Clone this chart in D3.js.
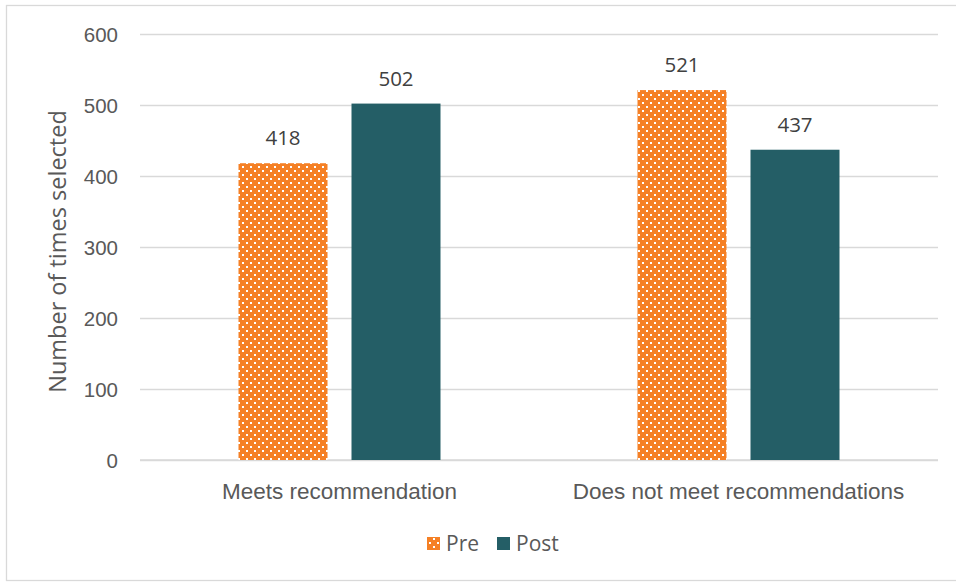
<!DOCTYPE html>
<html>
<head>
<meta charset="utf-8">
<script src="https://cdn.jsdelivr.net/npm/d3@7/dist/d3.min.js"></script>
<style>
  html, body { margin: 0; padding: 0; background: #fff; }
  svg { display: block; font-family: "Open Sans", "Liberation Sans", sans-serif; }
</style>
</head>
<body>
<svg id="chart" width="956" height="582"></svg>
<script>
// Chart data
const categories = ["Meets recommendation", "Does not meet recommendations"];
const seriesNames = ["Pre", "Post"];
const preValues = [418, 521];
const postValues = [502, 437];
const yTicks = [0, 100, 200, 300, 400, 500, 600];
const yTitle = "Number of times selected";

const seriesColors = { Pre: "#F58025", Post: "#245E66" };
const valuesBySeries = { Pre: preValues, Post: postValues };

const svg = d3.select("#chart");

// Dotted fill for the "Pre" series
const defs = svg.append("defs");
const pat = defs.append("pattern")
  .attr("id", "dots")
  .attr("patternUnits", "userSpaceOnUse")
  .attr("x", 6).attr("y", 2)
  .attr("width", 8).attr("height", 8);
pat.append("rect").attr("width", 8).attr("height", 8).attr("fill", seriesColors.Pre);
pat.append("rect").attr("x", 0).attr("y", 0).attr("width", 2).attr("height", 2).attr("fill", "#fff");
pat.append("rect").attr("x", 4).attr("y", 4).attr("width", 2).attr("height", 2).attr("fill", "#fff");

const fillFor = s => s === "Pre" ? "url(#dots)" : seriesColors.Post;

// Outer chart frame
svg.append("rect")
  .attr("x", 6.5).attr("y", 5.5)
  .attr("width", 960).attr("height", 575)
  .attr("fill", "#fff")
  .attr("stroke", "#D9D9D9").attr("stroke-width", 1.3);

// Plot area
const plot = { left: 140, right: 938, top: 34, bottom: 460 };

const y = d3.scaleLinear().domain([0, 600]).range([plot.bottom, plot.top]);
const x0 = d3.scaleBand().domain(categories).range([plot.left, plot.right]).padding(0);
const x1 = d3.scaleBand().domain(seriesNames)
  .range([98.5, x0.bandwidth() - 98.5])
  .paddingInner(24 / 113).paddingOuter(0);

// Gridlines and value axis
const yAxis = d3.axisLeft(y).tickValues(yTicks).tickSize(-(plot.right - plot.left)).tickPadding(22);
const gy = svg.append("g").attr("transform", `translate(${plot.left},0)`).call(yAxis);
gy.select(".domain").remove();
gy.selectAll(".tick line").attr("stroke", "#D9D9D9").attr("stroke-width", 1.3);
gy.selectAll(".tick text")
  .attr("fill", "#595959")
  .style("font-size", "20.5px")
  .attr("dy", "0.35em");

// Baseline
svg.append("line")
  .attr("x1", plot.left).attr("x2", plot.right)
  .attr("y1", y(0)).attr("y2", y(0))
  .attr("stroke", "#D9D9D9").attr("stroke-width", 1.5);

// Bars
const rows = [];
categories.forEach((c, i) => seriesNames.forEach(s => rows.push({ cat: c, series: s, value: valuesBySeries[s][i] })));

svg.append("g").selectAll("rect").data(rows).join("rect")
  .attr("x", d => x0(d.cat) + x1(d.series))
  .attr("y", d => y(d.value))
  .attr("width", x1.bandwidth())
  .attr("height", d => y(0) - y(d.value))
  .attr("fill", d => fillFor(d.series));

// Value labels
svg.append("g").selectAll("text").data(rows).join("text")
  .attr("x", d => x0(d.cat) + x1(d.series) + x1.bandwidth() / 2)
  .attr("y", d => y(d.value) - 18)
  .attr("text-anchor", "middle")
  .attr("fill", "#404040")
  .style("font-size", "20.5px")
  .text(d => d.value);

// Category axis labels
const xAxis = d3.axisBottom(x0).tickSize(0).tickPadding(23);
const gx = svg.append("g").attr("transform", `translate(0,${plot.bottom})`).call(xAxis);
gx.select(".domain").remove();
gx.selectAll(".tick text")
  .attr("fill", "#595959")
  .style("font-size", "22.5px");

// Y axis title
svg.append("text")
  .attr("transform", `translate(66,251.5) rotate(-90)`)
  .attr("text-anchor", "middle")
  .attr("fill", "#595959")
  .style("font-size", "23.5px")
  .text(yTitle);

// Legend
const legend = svg.append("g").attr("transform", "translate(427,544)");
const legendItems = [
  { name: "Pre", x: 0 },
  { name: "Post", x: 70 }
];
legendItems.forEach(it => {
  const g = legend.append("g").attr("transform", `translate(${it.x},0)`);
  g.append("rect").attr("x", 0).attr("y", -7).attr("width", 13).attr("height", 13)
    .attr("fill", fillFor(it.name));
  g.append("text").attr("x", 19).attr("y", 0).attr("dy", "0.35em")
    .attr("fill", "#595959").style("font-size", "21px").text(it.name);
});
</script>
</body>
</html>
